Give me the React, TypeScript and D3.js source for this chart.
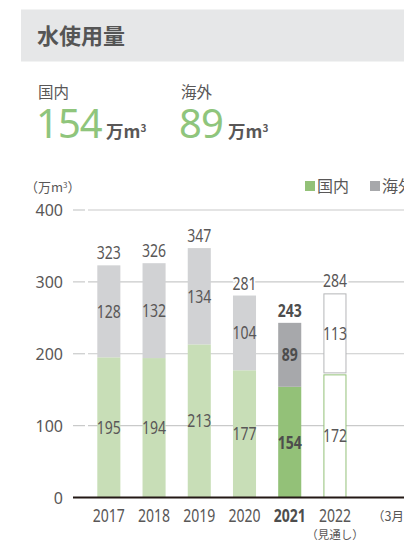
import React from "react";
import * as d3 from "d3";

const years = ["2017", "2018", "2019", "2020", "2021", "2022"];
const domestic = [195, 194, 213, 177, 154, 172];
const overseas = [128, 132, 134, 104, 89, 113];
const totals = [323, 326, 347, 281, 243, 284];
const yTicks = [0, 100, 200, 300, 400];
const categories = [...years, "unit"];

const W = 404;
const H = 540;
const numFont = "'Noto Sans', sans-serif";
const jpFont = "'Noto Sans CJK JP', sans-serif";
const textCol = "#595757";

function NumText(props: { x: number; y: number; bold?: boolean; fill: string; halo?: boolean; size?: number; children: React.ReactNode }) {
  const { x, y, bold, fill, halo, size = 18, children } = props;
  return (
    <text
      transform={`translate(${x},${y}) scale(0.78,1)`}
      textAnchor="middle"
      fontFamily={numFont}
      fontWeight={bold ? 700 : 400}
      fontSize={size}
      fill={fill}
      stroke={halo ? "#fff" : "none"}
      strokeWidth={halo ? 4 : 0}
      paintOrder="stroke"
    >
      {children}
    </text>
  );
}

export default function App() {
  const y = d3.scaleLinear().domain([0, 400]).range([497.5, 210]);
  const x = d3.scaleBand().domain(categories).range([86, 403]).paddingInner(0.49).paddingOuter(0.25);
  const bw = x.bandwidth();
  const cx = (c: string) => (x(c) as number) + bw / 2;

  return (
    <svg width={W} height={H} style={{ position: "absolute", left: 0, top: 0 }}>
      <rect x={21} y={9.5} width={383} height={52} fill="#e6e7e8" />
      <text x={37} y={44} fontFamily={jpFont} fontWeight={700} fontSize={22} fill="#555">水使用量</text>

      <text x={38} y={98} fontFamily={jpFont} fontSize={15.5} fill={textCol}>国内</text>
      <text x={181} y={98} fontFamily={jpFont} fontSize={15.5} fill={textCol}>海外</text>
      <text x={36} y={138} fontFamily="'Noto Sans', sans-serif" fontSize={40} fill="#8fc57c" letterSpacing={-1}>154</text>
      <text x={106} y={138} fontFamily={jpFont} fontWeight={700} fontSize={17.5} fill={textCol}>万m<tspan fontSize={10} dy={-6}>3</tspan></text>
      <text x={179} y={138} fontFamily="'Noto Sans', sans-serif" fontSize={40} fill="#8fc57c" letterSpacing={-1}>89</text>
      <text x={228} y={138} fontFamily={jpFont} fontWeight={700} fontSize={17.5} fill={textCol}>万m<tspan fontSize={10} dy={-6}>3</tspan></text>

      <text x={25} y={192} fontFamily={jpFont} fontSize={13} fill={textCol}>（万m<tspan fontSize={8} dy={-4}>3</tspan><tspan dy={4}>）</tspan></text>

      <rect x={305} y={181} width={10} height={10} fill="#93c178" />
      <text x={317} y={192} fontFamily={jpFont} fontSize={16} fill={textCol}>国内</text>
      <rect x={370} y={181} width={10} height={10} fill="#a7a8ab" />
      <text x={382} y={192} fontFamily={jpFont} fontSize={16} fill={textCol}>海外</text>

      {yTicks.map((t) => (
        <g key={t}>
          <text x={63} y={y(t) + 6} textAnchor="end" fontFamily="'Noto Sans', sans-serif" fontSize={16} fill={textCol}>{t}</text>
          {t > 0 && (
            <>
              <line x1={73} x2={85} y1={y(t)} y2={y(t)} stroke="#c9caca" strokeWidth={1.2} />
              <line x1={88} x2={404} y1={y(t)} y2={y(t)} stroke="#c9caca" strokeWidth={1.2} />
            </>
          )}
        </g>
      ))}

      {years.map((yr, i) => {
        const x0 = x(yr) as number;
        const is21 = yr === "2021";
        const is22 = yr === "2022";
        const dTop = y(domestic[i]);
        const tTop = y(totals[i]);
        const base = y(0);
        const lc = is21 ? "#4d4d4d" : textCol;
        return (
          <g key={yr}>
            {is22 ? (
              <>
                <rect x={x0 + 0.5} y={dTop + 1} width={bw - 1} height={base - dTop - 1} fill="#fff" stroke="#93c178" strokeWidth={1} />
                <rect x={x0 + 0.5} y={tTop + 0.5} width={bw - 1} height={dTop - tTop - 1.5} fill="#fff" stroke="#b5b6b8" strokeWidth={1} />
              </>
            ) : (
              <>
                <rect x={x0} y={dTop} width={bw} height={base - dTop} fill={is21 ? "#93c178" : "#c8deb7"} />
                <rect x={x0} y={tTop} width={bw} height={dTop - tTop} fill={is21 ? "#a7a8ab" : "#d1d2d4"} />
              </>
            )}
            <NumText x={cx(yr)} y={(dTop + base) / 2 + 6.5} bold={is21} fill={lc}>{domestic[i]}</NumText>
            <NumText x={cx(yr)} y={(dTop + tTop) / 2 + 6.5} bold={is21} fill={lc}>{overseas[i]}</NumText>
            <NumText x={cx(yr)} y={tTop - 6} bold={is21} fill={lc} halo>{totals[i]}</NumText>
            <NumText x={cx(yr)} y={522} bold={is21} fill={lc}>{yr}</NumText>
          </g>
        );
      })}
      <text x={cx("2022")} y={538.5} textAnchor="middle" fontFamily={jpFont} fontSize={11.5} fill={textCol}>（見通し）</text>
      <text x={372} y={521} fontFamily={jpFont} fontSize={12.5} fill={textCol}>（3月期）</text>

      <line x1={73} x2={404} y1={y(0)} y2={y(0)} stroke="#231815" strokeWidth={2} />
    </svg>
  );
}
